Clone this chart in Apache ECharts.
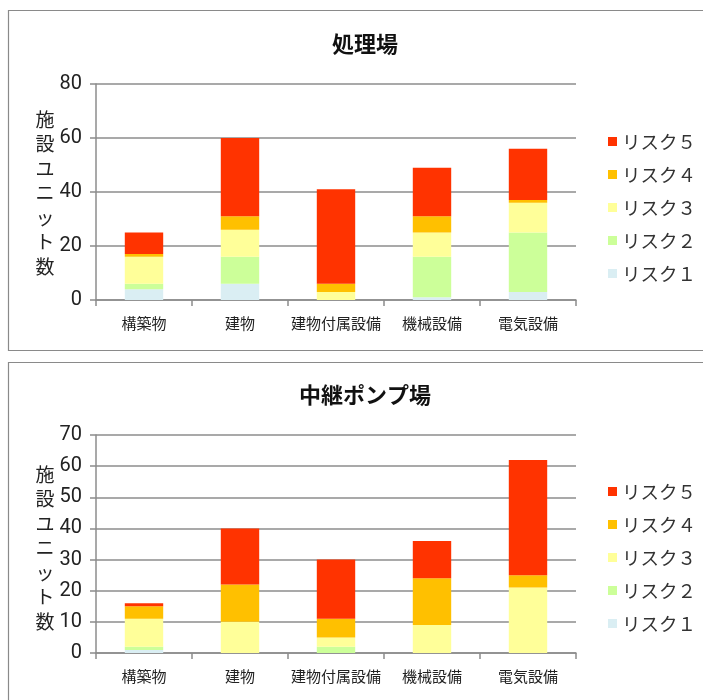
<!DOCTYPE html>
<html>
<head>
<meta charset="utf-8">
<script src="https://cdn.jsdelivr.net/npm/echarts@6/dist/echarts.min.js"></script>
<style>
  html, body { margin: 0; padding: 0; background: #fff; }
  #chart { width: 703px; height: 700px; }
</style>
</head>
<body>
<div id="chart"></div>
<script>
// Categories shared by both panels
const categories = ['構築物', '建物', '建物付属設備', '機械設備', '電気設備'];
const riskNames = ['リスク１', 'リスク２', 'リスク３', 'リスク４', 'リスク５'];
const riskColors = ['#DAEEF3', '#CCFF99', '#FFFF99', '#FFC000', '#FF3300'];

// 処理場: units per risk level
const plantRisk1 = [4, 6, 0, 1, 3];
const plantRisk2 = [2, 10, 0, 15, 22];
const plantRisk3 = [10, 10, 3, 9, 11];
const plantRisk4 = [1, 5, 3, 6, 1];
const plantRisk5 = [8, 29, 35, 18, 19];

// 中継ポンプ場: units per risk level
const pumpRisk1 = [1, 0, 0, 0, 0];
const pumpRisk2 = [1, 0, 2, 0, 0];
const pumpRisk3 = [9, 10, 3, 9, 21];
const pumpRisk4 = [4, 12, 6, 15, 4];
const pumpRisk5 = [1, 18, 19, 12, 37];

const plantTicks = { max: 80, interval: 20 };
const pumpTicks = { max: 70, interval: 10 };

const numFont = "'Liberation Sans Narrow', 'Roboto', 'Noto Sans CJK JP', sans-serif";
const jpFont = "'Noto Sans CJK JP', sans-serif";
const gridGray = '#8c8c8c';

function yAxisFor(gridIndex, ticks) {
  return {
    type: 'value', gridIndex, min: 0, max: ticks.max, interval: ticks.interval,
    axisLine: { show: true, lineStyle: { color: gridGray, width: 1.5 } },
    axisTick: { show: true, length: 6, lineStyle: { color: gridGray, width: 1.5 } },
    splitLine: { show: true, lineStyle: { color: gridGray, width: 1.5 } },
    axisLabel: { fontSize: 20, color: '#222', margin: 14, fontFamily: numFont }
  };
}

function xAxisFor(gridIndex) {
  return {
    type: 'category', gridIndex, data: categories,
    axisLine: { show: true, lineStyle: { color: gridGray, width: 1.5 } },
    axisTick: { show: true, length: 6, alignWithLabel: false, lineStyle: { color: gridGray, width: 1.5 } },
    axisLabel: { fontSize: 15, color: '#222', margin: 16, fontFamily: jpFont, interval: 0 }
  };
}

function stackSeries(axisIndex, stackId, rows) {
  return rows.map((vals, i) => ({
    name: riskNames[i], type: 'bar', stack: stackId,
    xAxisIndex: axisIndex, yAxisIndex: axisIndex,
    barWidth: '40%', data: vals,
    itemStyle: { color: riskColors[i] },
    emphasis: { disabled: true }
  }));
}

function legendAt(top) {
  return {
    orient: 'vertical', left: 603, top,
    data: riskNames.slice().reverse(),
    icon: 'rect', itemWidth: 9, itemHeight: 9, itemGap: 14,
    textStyle: { fontSize: 18.5, color: '#333', fontFamily: jpFont, lineHeight: 19 },
    selectedMode: false
  };
}

function titleAt(text, top) {
  return {
    text, left: 360, top, textAlign: 'center',
    textStyle: { fontSize: 22, fontWeight: 'bold', color: '#111', fontFamily: jpFont }
  };
}

const axisName = '施\n設\nユ\nニ\nッ\nト\n数';

const chart = echarts.init(document.getElementById('chart'), null, { renderer: 'canvas' });
chart.setOption({
  animation: false,
  backgroundColor: '#fff',
  title: [titleAt('処理場', 28), titleAt('中継ポンプ場', 379)],
  legend: [legendAt(127), legendAt(477)],
  grid: [
    { left: 96, top: 84, width: 480, height: 216 },
    { left: 96, top: 435, width: 480, height: 218 }
  ],
  xAxis: [xAxisFor(0), xAxisFor(1)],
  yAxis: [yAxisFor(0, plantTicks), yAxisFor(1, pumpTicks)],
  series: [
    ...stackSeries(0, 'plant', [plantRisk1, plantRisk2, plantRisk3, plantRisk4, plantRisk5]),
    ...stackSeries(1, 'pump', [pumpRisk1, pumpRisk2, pumpRisk3, pumpRisk4, pumpRisk5])
  ],
  graphic: [
    { type: 'rect', shape: { x: 8.5, y: 10.5, width: 700, height: 340 },
      style: { fill: 'none', stroke: '#8a8a8a', lineWidth: 1.2 }, z: -1 },
    { type: 'rect', shape: { x: 8.5, y: 362.5, width: 700, height: 360 },
      style: { fill: 'none', stroke: '#8a8a8a', lineWidth: 1.2 }, z: -1 },
    { type: 'text', x: 45, y: 193,
      style: { text: axisName, fontSize: 19, lineHeight: 24.5, fill: '#222', align: 'center', verticalAlign: 'middle', fontFamily: jpFont } },
    { type: 'text', x: 45, y: 548,
      style: { text: axisName, fontSize: 19, lineHeight: 24.5, fill: '#222', align: 'center', verticalAlign: 'middle', fontFamily: jpFont } }
  ]
});
</script>
</body>
</html>
